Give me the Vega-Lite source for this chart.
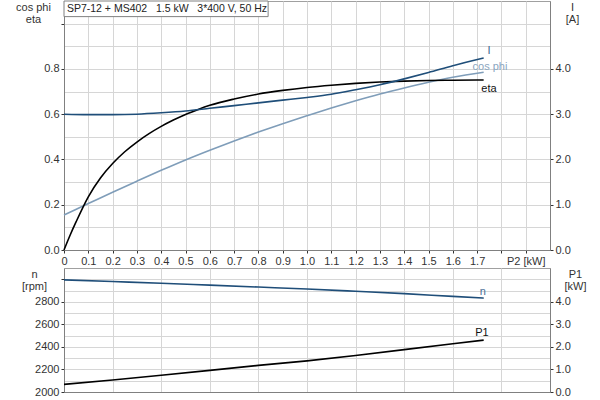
{
  "$schema": "https://vega.github.io/schema/vega-lite/v6.json",
  "padding": {"left": 15, "top": 0, "right": 0, "bottom": 0},
  "spacing": 0,
  "background": "white",
  "config": {
    "font": "Liberation Sans",
    "view": {"stroke": "#a0a0a0"},
    "axis": {
      "labelFont": "Liberation Sans", "labelFontSize": 11, "labelColor": "#333333",
      "titleFont": "Liberation Sans", "titleFontSize": 11, "titleFontWeight": "normal", "titleColor": "#333333",
      "domainColor": "#808080", "tickColor": "#333333", "tickSize": 3,
      "gridColor": "#d6d6d6", "labelOverlap": false, "labelFlush": false
    }
  },
  "datasets": {
    "cos": [
      {"p2": 0, "v": 0.155}, {"p2": 0.1, "v": 0.205}, {"p2": 0.2, "v": 0.255}, {"p2": 0.3, "v": 0.304},
      {"p2": 0.4, "v": 0.352}, {"p2": 0.5, "v": 0.398}, {"p2": 0.6, "v": 0.441}, {"p2": 0.7, "v": 0.482},
      {"p2": 0.8, "v": 0.521}, {"p2": 0.9, "v": 0.558}, {"p2": 1.0, "v": 0.593}, {"p2": 1.1, "v": 0.627},
      {"p2": 1.2, "v": 0.659}, {"p2": 1.3, "v": 0.689}, {"p2": 1.4, "v": 0.716}, {"p2": 1.5, "v": 0.741},
      {"p2": 1.6, "v": 0.763}, {"p2": 1.727, "v": 0.785}
    ],
    "eta": [
      {"p2": 0, "v": 0}, {"p2": 0.025, "v": 0.065}, {"p2": 0.05, "v": 0.125}, {"p2": 0.1, "v": 0.235},
      {"p2": 0.15, "v": 0.318}, {"p2": 0.2, "v": 0.382}, {"p2": 0.25, "v": 0.434}, {"p2": 0.3, "v": 0.477},
      {"p2": 0.35, "v": 0.514}, {"p2": 0.4, "v": 0.546}, {"p2": 0.45, "v": 0.574}, {"p2": 0.5, "v": 0.599},
      {"p2": 0.55, "v": 0.62}, {"p2": 0.6, "v": 0.639}, {"p2": 0.7, "v": 0.667}, {"p2": 0.8, "v": 0.689},
      {"p2": 0.9, "v": 0.705}, {"p2": 1.0, "v": 0.718}, {"p2": 1.1, "v": 0.728}, {"p2": 1.2, "v": 0.736},
      {"p2": 1.3, "v": 0.742}, {"p2": 1.4, "v": 0.746}, {"p2": 1.5, "v": 0.749}, {"p2": 1.6, "v": 0.75},
      {"p2": 1.727, "v": 0.751}
    ],
    "cur": [
      {"p2": 0, "v": 3.0}, {"p2": 0.1, "v": 2.99}, {"p2": 0.2, "v": 2.99}, {"p2": 0.3, "v": 3.0},
      {"p2": 0.4, "v": 3.03}, {"p2": 0.5, "v": 3.07}, {"p2": 0.6, "v": 3.13}, {"p2": 0.7, "v": 3.19},
      {"p2": 0.8, "v": 3.25}, {"p2": 0.9, "v": 3.31}, {"p2": 1.0, "v": 3.37}, {"p2": 1.1, "v": 3.44},
      {"p2": 1.2, "v": 3.54}, {"p2": 1.3, "v": 3.65}, {"p2": 1.4, "v": 3.78}, {"p2": 1.5, "v": 3.92},
      {"p2": 1.6, "v": 4.07}, {"p2": 1.727, "v": 4.24}
    ],
    "n": [
      {"p2": 0, "v": 2995}, {"p2": 0.2, "v": 2980}, {"p2": 0.4, "v": 2965}, {"p2": 0.6, "v": 2948},
      {"p2": 0.8, "v": 2931}, {"p2": 1.0, "v": 2914}, {"p2": 1.2, "v": 2894}, {"p2": 1.4, "v": 2873},
      {"p2": 1.6, "v": 2848}, {"p2": 1.727, "v": 2833}
    ],
    "p1": [
      {"p2": 0, "v": 0.34}, {"p2": 0.2, "v": 0.53}, {"p2": 0.4, "v": 0.74}, {"p2": 0.6, "v": 0.96},
      {"p2": 0.8, "v": 1.18}, {"p2": 1.0, "v": 1.38}, {"p2": 1.2, "v": 1.62}, {"p2": 1.4, "v": 1.88},
      {"p2": 1.6, "v": 2.14}, {"p2": 1.727, "v": 2.3}
    ]
  },
  "vconcat": [
    {
      "width": 486,
      "height": 249,
      "resolve": {"scale": {"y": "independent"}},
      "layer": [
        {
          "layer": [
            {
              "data": {"name": "cos"},
              "mark": {"type": "line", "color": "#7f9db9", "strokeWidth": 1.6, "interpolate": "monotone"},
              "encoding": {
                "x": {"field": "p2", "type": "quantitative", "scale": {"domain": [0, 2.0], "nice": false},
                  "axis": {"title": null, "grid": true, "labelOverlap": false, "tickCount": 200,
                    "values": [0,0.1,0.2,0.3,0.4,0.5,0.6,0.7,0.8,0.9,1.0,1.1,1.2,1.3,1.4,1.5,1.6,1.7,1.8,1.9],
                    "labelExpr": "abs(datum.value-1.9)<0.01 ? 'P2 [kW]' : datum.value > 1.75 ? '' : datum.value == 0 ? '0' : format(datum.value, '.1f')",
                    "labelPadding": 2}},
                "y": {"field": "v", "type": "quantitative", "scale": {"domain": [0, 1.1], "nice": false},
                  "axis": {"orient": "left", "grid": true, "labelOverlap": false, "tickCount": 200,
                    "values": [0,0.1,0.2,0.3,0.4,0.5,0.6,0.7,0.8,0.9,1.0],
                    "labelExpr": "round(datum.value*10)%2==0 && datum.value<0.85 ? format(datum.value,'.1f') : ''",
                    "tickOpacity": {"condition": {"test": "round(datum.value*10)%2==0", "value": 1}, "value": 0},
                    "title": ["cos phi", "eta"], "titleAngle": 0, "titleAlign": "center", "titleBaseline": "top",
                    "titleX": -31, "titleY": 0, "titleLineHeight": 12}}
              }
            },
            {
              "data": {"name": "eta"},
              "mark": {"type": "line", "color": "#000000", "strokeWidth": 1.6, "interpolate": "monotone"},
              "encoding": {
                "x": {"field": "p2", "type": "quantitative"},
                "y": {"field": "v", "type": "quantitative"}
              }
            },
            {
              "data": {"values": [{"x1": 0, "x2": 0.84, "y1": 1.1, "y2": 1.031}]},
              "mark": {"type": "rect", "fill": "white", "stroke": "#808080", "strokeWidth": 1},
              "encoding": {
                "x": {"field": "x1", "type": "quantitative"},
                "x2": {"field": "x2"},
                "y": {"field": "y1", "type": "quantitative"},
                "y2": {"field": "y2"}
              }
            },
            {
              "data": {"values": [{"x": 0.012, "y": 1.066, "t": "SP7-12 + MS402\u00a0\u00a0\u00a01.5 kW\u00a0\u00a0\u00a03*400 V, 50 Hz"}]},
              "mark": {"type": "text", "align": "left", "baseline": "middle", "fontSize": 10.5, "color": "#222222"},
              "encoding": {
                "x": {"field": "x", "type": "quantitative"},
                "y": {"field": "y", "type": "quantitative"},
                "text": {"field": "t"}
              }
            },
            {
              "data": {"values": [{"x": 1.753, "y": 0.81, "t": "cos phi", "c": "cos"}, {"x": 1.749, "y": 0.713, "t": "eta", "c": "eta"}]},
              "mark": {"type": "text", "align": "center", "baseline": "middle", "fontSize": 11},
              "encoding": {
                "x": {"field": "x", "type": "quantitative"},
                "y": {"field": "y", "type": "quantitative"},
                "text": {"field": "t"},
                "color": {"field": "c", "type": "nominal", "scale": {"domain": ["cos", "eta"], "range": ["#8aa6bf", "#111111"]}, "legend": null}
              }
            }
          ]
        },
        {
          "layer": [
            {
              "data": {"name": "cur"},
              "mark": {"type": "line", "color": "#1f4e79", "strokeWidth": 1.6, "interpolate": "monotone"},
              "encoding": {
                "x": {"field": "p2", "type": "quantitative"},
                "y": {"field": "v", "type": "quantitative", "scale": {"domain": [0, 5.5], "nice": false},
                  "axis": {"orient": "right", "grid": false, "values": [0,1,2,3,4], "format": ".1f", "labelOverlap": false, "tickCount": 200,
                    "title": ["I", "[A]"], "titleAngle": 0, "titleAlign": "center", "titleBaseline": "top",
                    "titleX": 22, "titleY": 0, "titleLineHeight": 12}}
              }
            },
            {
              "data": {"values": [{"x": 1.749, "y": 4.4, "t": "I"}]},
              "mark": {"type": "text", "align": "center", "baseline": "middle", "fontSize": 11, "color": "#3d6690"},
              "encoding": {
                "x": {"field": "x", "type": "quantitative"},
                "y": {"field": "y", "type": "quantitative"},
                "text": {"field": "t"}
              }
            }
          ]
        }
      ]
    },
    {
      "width": 486,
      "height": 124,
      "resolve": {"scale": {"y": "independent"}},
      "layer": [
        {
          "layer": [
            {
              "data": {"name": "n"},
              "mark": {"type": "line", "color": "#1f4e79", "strokeWidth": 1.6, "interpolate": "monotone"},
              "encoding": {
                "x": {"field": "p2", "type": "quantitative", "scale": {"domain": [0, 2.0], "nice": false},
                  "axis": {"title": null, "grid": true, "labels": false, "ticks": false, "tickCount": 200,
                    "values": [0,0.2,0.4,0.6,0.8,1.0,1.2,1.4,1.6,1.8]}},
                "y": {"field": "v", "type": "quantitative", "scale": {"domain": [2000, 3100], "nice": false},
                  "axis": {"orient": "left", "grid": true, "labelOverlap": false, "tickCount": 200,
                    "values": [2000,2100,2200,2300,2400,2500,2600,2700,2800,2900,3000],
                    "labelExpr": "datum.value % 200 == 0 && datum.value < 2900 ? format(datum.value,'d') : ''",
                    "tickOpacity": {"condition": {"test": "datum.value % 200 == 0", "value": 1}, "value": 0},
                    "title": ["n", "[rpm]"], "titleAngle": 0, "titleAlign": "center", "titleBaseline": "top",
                    "titleX": -30, "titleY": 0, "titleLineHeight": 12}}
              }
            },
            {
              "data": {"values": [{"x": 1.724, "y": 2886, "t": "n"}]},
              "mark": {"type": "text", "align": "center", "baseline": "middle", "fontSize": 11, "color": "#4a6f95"},
              "encoding": {
                "x": {"field": "x", "type": "quantitative"},
                "y": {"field": "y", "type": "quantitative"},
                "text": {"field": "t"}
              }
            }
          ]
        },
        {
          "layer": [
            {
              "data": {"name": "p1"},
              "mark": {"type": "line", "color": "#000000", "strokeWidth": 1.6},
              "encoding": {
                "x": {"field": "p2", "type": "quantitative"},
                "y": {"field": "v", "type": "quantitative", "scale": {"domain": [0, 5.5], "nice": false},
                  "axis": {"orient": "right", "grid": false, "values": [0,1,2,3,4], "format": ".1f", "labelOverlap": false, "tickCount": 200,
                    "title": ["P1", "[kW]"], "titleAngle": 0, "titleAlign": "center", "titleBaseline": "top",
                    "titleX": 25, "titleY": 0, "titleLineHeight": 12}}
              }
            },
            {
              "data": {"values": [{"x": 1.72, "y": 2.61, "t": "P1"}]},
              "mark": {"type": "text", "align": "center", "baseline": "middle", "fontSize": 11, "color": "#111111"},
              "encoding": {
                "x": {"field": "x", "type": "quantitative"},
                "y": {"field": "y", "type": "quantitative"},
                "text": {"field": "t"}
              }
            }
          ]
        }
      ]
    }
  ]
}
